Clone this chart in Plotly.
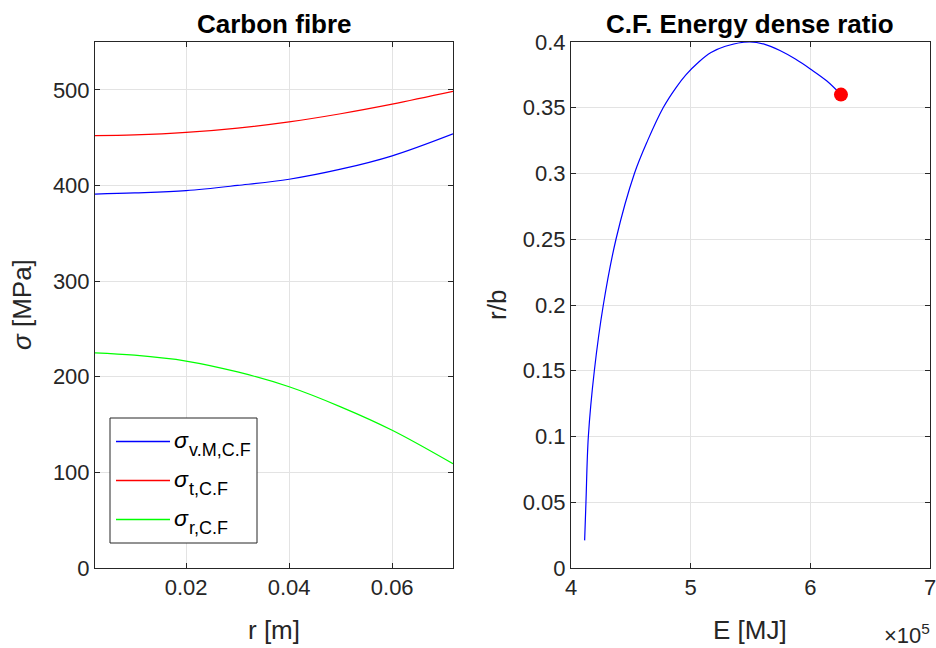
import plotly.graph_objects as go

# ---- Carbon fibre stress distribution ----
r_m = [0.00233, 0.01, 0.02, 0.03, 0.04, 0.05, 0.06, 0.0718]
sigma_vm = [391, 392.2, 394.6, 400, 406.5, 417, 431, 454]
sigma_t = [452, 452.8, 455.4, 460, 466.5, 475, 485, 498.3]
sigma_r = [225, 222.5, 216.4, 205, 189.5, 168.5, 144, 109]

series_names = ["v.M,C.F", "t,C.F", "r,C.F"]
series_colors = ["#0000ff", "#ff0000", "#00ff00"]

# ---- Energy vs dense ratio ----
energy_mj = [411400, 412500, 414500, 419500, 427000, 437600, 453000,
             464000, 477000, 487500, 496000, 507000, 517000, 529000, 549000,
             562000, 574600, 587500, 600000, 613600, 625600]
ratio_rb = [0.021, 0.05, 0.10, 0.15, 0.20, 0.25, 0.30,
            0.325, 0.35, 0.365, 0.375, 0.385, 0.392, 0.3968, 0.400,
            0.3982, 0.3935, 0.387, 0.3795, 0.3705, 0.360]

left_xticks = [0.02, 0.04, 0.06]
left_xticklabels = ["0.02", "0.04", "0.06"]
left_yticks = [0, 100, 200, 300, 400, 500]
right_xticks = [400000, 500000, 600000, 700000]
right_xticklabels = ["4", "5", "6", "7"]
right_yticks = [0, 0.05, 0.1, 0.15, 0.2, 0.25, 0.3, 0.35, 0.4]
right_yticklabels = ["0", "0.05", "0.1", "0.15", "0.2", "0.25", "0.3", "0.35", "0.4"]

W, H = 936, 648
FONT = "Liberation Sans, Arial, sans-serif"
AX = "#262626"
GRID = "#e3e3e3"
LINE_W = 1.2

fig = go.Figure()
for ys, nm, col in zip([sigma_vm, sigma_t, sigma_r], series_names, series_colors):
    fig.add_trace(go.Scatter(x=r_m, y=ys, mode="lines", name=nm,
                             line=dict(color=col, width=LINE_W, shape="spline"),
                             showlegend=False, xaxis="x", yaxis="y"))

fig.add_trace(go.Scatter(x=energy_mj, y=ratio_rb, mode="lines",
                         line=dict(color="#0000ff", width=LINE_W, shape="spline"),
                         showlegend=False, xaxis="x2", yaxis="y2"))
fig.add_trace(go.Scatter(x=[energy_mj[-1]], y=[ratio_rb[-1]], mode="markers",
                         marker=dict(color="#ff0000", size=14, line=dict(width=0)),
                         showlegend=False, xaxis="x2", yaxis="y2", cliponaxis=False))


def px_x(p):
    return p / W


def px_y(p):
    return 1 - p / H


ydom = [px_y(568), px_y(42)]
axis_common = dict(showline=True, linecolor=AX, linewidth=1, mirror="ticks", ticks="inside",
                   ticklen=5, tickcolor=AX, showgrid=True, gridcolor=GRID, gridwidth=1,
                   zeroline=False, automargin=False, ticklabeloverflow="allow",
                   tickfont=dict(family=FONT, size=22, color=AX))

fig.update_layout(
    width=W, height=H, template="none",
    margin=dict(l=0, r=0, t=0, b=0),
    paper_bgcolor="white", plot_bgcolor="white",
    xaxis=dict(domain=[px_x(95), px_x(453)], range=[0.00233, 0.0718], tickvals=left_xticks,
               ticktext=left_xticklabels, anchor="y", **axis_common),
    yaxis=dict(domain=ydom, range=[0, 550], tickvals=left_yticks, anchor="x", **axis_common),
    xaxis2=dict(domain=[px_x(571), px_x(930)], range=[400000, 700000], tickvals=right_xticks,
                ticktext=right_xticklabels, anchor="y2", **axis_common),
    yaxis2=dict(domain=ydom, range=[0, 0.4], tickvals=right_yticks, ticktext=right_yticklabels,
                anchor="x2", **axis_common),
    showlegend=False,
)

# Legend box with line samples and labels
fig.add_shape(type="rect", xref="paper", yref="paper",
              x0=px_x(110), x1=px_x(257), y0=px_y(543), y1=px_y(418),
              line=dict(color=AX, width=1), fillcolor="white", layer="above")
legend_rows = [441.5, 480.5, 519.5]
for row, nm, col in zip(legend_rows, series_names, series_colors):
    fig.add_shape(type="line", xref="paper", yref="paper",
                  x0=px_x(116), x1=px_x(170), y0=px_y(row), y1=px_y(row),
                  line=dict(color=col, width=1.5), layer="above")
    fig.add_annotation(xref="paper", yref="paper", showarrow=False, xanchor="left", yanchor="middle",
                       x=px_x(172), y=px_y(row - 2), text="<i>σ</i>",
                       font=dict(family=FONT, size=23, color="#000000"))
    fig.add_annotation(xref="paper", yref="paper", showarrow=False, xanchor="left", yanchor="middle",
                       x=px_x(187), y=px_y(row + 8), text=nm,
                       font=dict(family=FONT, size=18, color="#000000"))

ann = [
    dict(text="<b>Carbon fibre</b>", x=px_x(274), y=px_y(24), font=dict(size=26, color="#000000")),
    dict(text="<b>C.F. Energy dense ratio</b>", x=px_x(750), y=px_y(24), font=dict(size=26, color="#000000")),
    dict(text="r [m]", x=px_x(274), y=px_y(630), font=dict(size=26, color=AX)),
    dict(text="E [MJ]", x=px_x(750), y=px_y(630), font=dict(size=26, color=AX)),
    dict(text="<i>σ</i> [MPa]", x=px_x(22), y=px_y(305), textangle=-90, font=dict(size=26, color=AX)),
    dict(text="r/b", x=px_x(497), y=px_y(305), textangle=-90, font=dict(size=26, color=AX)),
]
for a in ann:
    fig.add_annotation(xref="paper", yref="paper", showarrow=False, xanchor="center", yanchor="middle",
                       x=a["x"], y=a["y"], text=a["text"], textangle=a.get("textangle", 0),
                       font=dict(family=FONT, **a["font"]))

fig.add_annotation(xref="paper", yref="paper", showarrow=False, xanchor="right", yanchor="middle",
                   x=px_x(932), y=px_y(634), text="×10<sup>5</sup>",
                   font=dict(family=FONT, size=22, color=AX))

fig.write_html("out.html")
